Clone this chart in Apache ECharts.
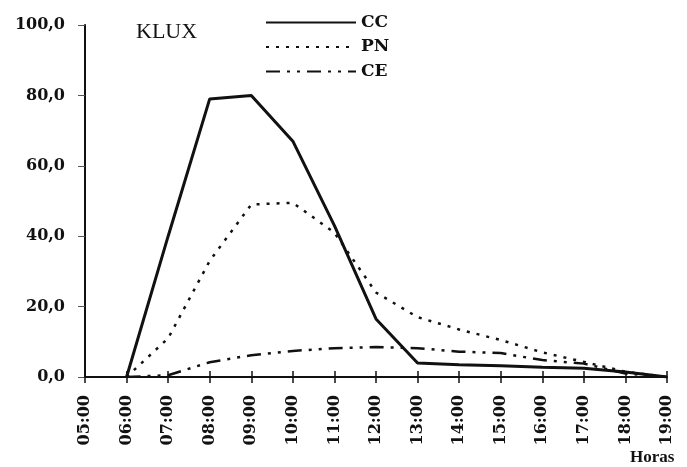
<!DOCTYPE html>
<html>
<head>
<meta charset="utf-8">
<script src="https://cdn.jsdelivr.net/npm/echarts@6/dist/echarts.min.js"></script>
<style>
  html, body { margin: 0; padding: 0; background: #fff; }
  #chart { width: 687px; height: 467px; }
</style>
</head>
<body>
<div id="chart"></div>
<script>
// horas do dia
var hours = ['05:00', '06:00', '07:00', '08:00', '09:00', '10:00', '11:00', '12:00',
  '13:00', '14:00', '15:00', '16:00', '17:00', '18:00', '19:00'];
// KLUX por série
var cc = [null, 0, 40, 79, 80, 67, 43, 16.5, 4, 3.5, 3.2, 2.8, 2.5, 1.4, 0];
var pn = [null, 0, 11, 33, 49, 49.5, 41, 24, 17, 13.5, 10.5, 7, 4.3, 1.5, 0];
var ce = [null, 0, 0.5, 4.2, 6.2, 7.4, 8.2, 8.5, 8.2, 7.2, 6.8, 4.8, 3.8, 1, 0];

var serif = 'Liberation Serif';
var wide = 'DejaVu Serif';

var chart = echarts.init(document.getElementById('chart'));
chart.setOption({
  backgroundColor: '#fff',
  animation: false,
  title: {
    text: 'KLUX',
    left: 131, top: 16,
    textStyle: { fontFamily: serif, fontSize: 22, fontWeight: 'normal', color: '#111' }
  },
  legend: {
    orient: 'vertical',
    left: 260, top: 9,
    itemWidth: 90, itemHeight: 14,
    itemGap: 7.5,
    itemStyle: { opacity: 0 },
    textStyle: { fontFamily: wide, fontSize: 17, fontWeight: 'bold', color: '#111', lineHeight: 14 },
    data: ['CC', 'PN', 'CE']
  },
  graphic: [{
    type: 'text', left: 630, top: 449,
    style: { text: 'Horas', fontFamily: serif, fontSize: 17, fontWeight: 'bold', fill: '#111' }
  }],
  grid: { left: 85, right: 20, top: 25, bottom: 90 },
  xAxis: [{
    type: 'category',
    data: hours,
    boundaryGap: false,
    axisLine: { lineStyle: { color: '#111', width: 2 } },
    axisTick: { show: true, length: 6, lineStyle: { color: '#111', width: 1.5 } },
    axisLabel: {
      rotate: 90, margin: 18, interval: 0,
      fontFamily: wide, fontSize: 16, fontWeight: 'bold', color: '#111'
    },
    splitLine: { show: false }
  }, {
    type: 'category',
    data: hours,
    boundaryGap: false,
    position: 'bottom',
    axisLine: { show: false },
    axisTick: { show: true, inside: true, length: 6, lineStyle: { color: '#111', width: 1.5 } },
    axisLabel: { show: false },
    splitLine: { show: false }
  }],
  yAxis: {
    type: 'value',
    min: 0, max: 100, interval: 20,
    axisLine: { show: true, lineStyle: { color: '#111', width: 2 } },
    axisTick: { show: true, length: 7, lineStyle: { color: '#555', width: 1 } },
    axisLabel: {
      margin: 20,
      fontFamily: wide, fontSize: 16, fontWeight: 'bold', color: '#111',
      formatter: function (v) { return v.toFixed(1).replace('.', ','); }
    },
    splitLine: { show: false }
  },
  series: [{
    name: 'CC', type: 'line', data: cc, symbol: 'none',
    lineStyle: { color: '#111', width: 3, type: 'solid' },
    itemStyle: { color: '#111' }
  }, {
    name: 'PN', type: 'line', data: pn, symbol: 'none',
    lineStyle: { color: '#111', width: 2.5, type: [3, 7] },
    itemStyle: { color: '#111' }
  }, {
    name: 'CE', type: 'line', data: ce, symbol: 'none',
    lineStyle: { color: '#111', width: 2.5, type: [14, 7, 3, 7, 3, 7] },
    itemStyle: { color: '#111' }
  }]
});
</script>
</body>
</html>
